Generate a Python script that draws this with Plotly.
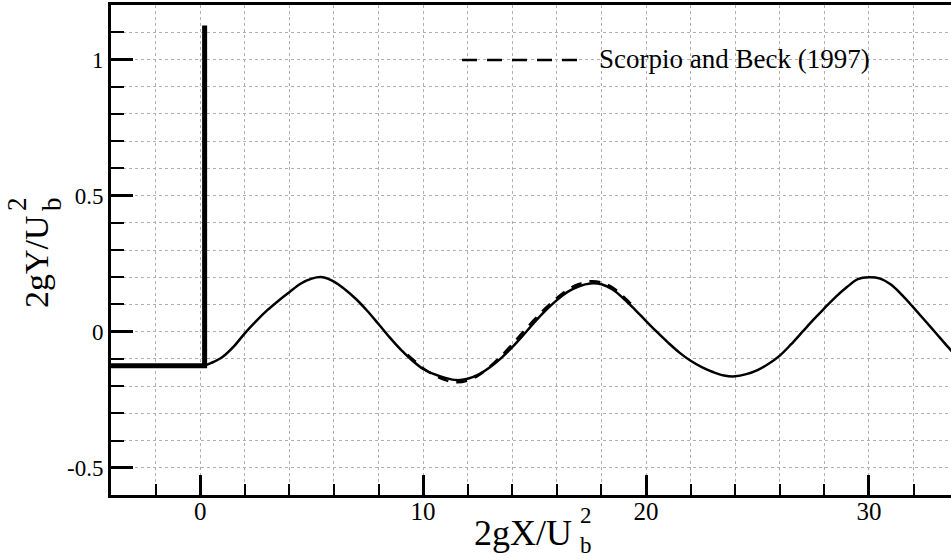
import plotly.graph_objects as go

# ---- data ----
wall_x = [-4, 0.2, 0.2]
wall_y = [-0.125, -0.125, 1.125]

sim_x = [0.2, 0.5, 1, 1.5, 2, 2.5, 3, 3.5, 4, 4.5, 5, 5.5, 6, 6.5, 7, 7.5, 8, 8.5, 9, 9.5,
         10, 10.5, 11, 11.5, 12, 12.5, 13, 13.5, 14, 14.5, 15, 15.5, 16, 16.5, 17, 17.5,
         18, 18.5, 19, 19.5, 20, 20.5, 21, 21.5, 22, 22.5, 23, 23.5, 24, 24.5, 25, 25.5,
         26, 26.5, 27, 27.5, 28, 28.5, 29, 29.5, 30, 30.5, 31, 31.5, 32, 32.5, 33, 33.5, 34]
sim_y = [-0.125, -0.115, -0.093, -0.055, -0.006, 0.038, 0.078, 0.113, 0.145, 0.176, 0.195,
         0.2, 0.184, 0.155, 0.119, 0.076, 0.028, -0.021, -0.066, -0.105, -0.137, -0.156,
         -0.17, -0.178, -0.173, -0.157, -0.131, -0.097, -0.057, -0.012, 0.035, 0.078, 0.116,
         0.147, 0.167, 0.177, 0.174, 0.155, 0.121, 0.081, 0.039, -0.002, -0.041, -0.077,
         -0.107, -0.13, -0.148, -0.161, -0.164, -0.156, -0.141, -0.118, -0.088, -0.047, -0.002,
         0.043, 0.086, 0.127, 0.163, 0.193, 0.2, 0.195, 0.172, 0.133, 0.088, 0.042, -0.005,
         -0.052, -0.097]

exp_x = [9.3, 9.5, 10, 10.5, 11, 11.5, 12, 12.5, 13, 13.5, 14, 14.5, 15, 15.5, 16, 16.5,
         17, 17.5, 18, 18.5, 19, 19.5]
exp_y = [-0.085, -0.099, -0.134, -0.16, -0.178, -0.186, -0.18, -0.16, -0.128, -0.09,
         -0.046, 0.0, 0.045, 0.087, 0.124, 0.155, 0.175, 0.185, 0.181, 0.162, 0.128, 0.088]

legend_label = "Scorpio and Beck (1997)"
x_tickvals = [0, 10, 20, 30]
x_ticktext = ["0", "10", "20", "30"]
y_tickvals = [-0.5, 0, 0.5, 1]
y_ticktext = ["-0.5", "0", "0.5", "1"]

FONT = "Liberation Serif"
W, H = 951, 560
L, R, T, B = 111, 0, 5, 65
PW, PH = W - L - R, H - T - B


def px(xp):
    return (xp - L) / PW


def py(yp):
    return (H - B - yp) / PH


fig = go.Figure()
fig.add_trace(go.Scatter(x=wall_x, y=wall_y, mode="lines",
                         line=dict(color="black", width=5), showlegend=False))
fig.add_trace(go.Scatter(x=sim_x, y=sim_y, mode="lines",
                         line=dict(color="black", width=2.5, shape="spline", smoothing=1),
                         showlegend=False))
fig.add_trace(go.Scatter(x=exp_x, y=exp_y, mode="lines", name=legend_label,
                         line=dict(color="black", width=2.5, dash="11px,8px",
                                   shape="spline", smoothing=1),
                         showlegend=False))

grid = dict(showgrid=True, gridcolor="#b0b0b0", griddash="dot", gridwidth=1)

fig.update_xaxes(range=[-4, 33.68], tickmode="array", tickvals=x_tickvals,
                 ticktext=x_ticktext, ticks="inside", ticklen=20, tickwidth=3,
                 tickcolor="black", showline=True, linewidth=3, linecolor="black",
                 mirror=True, zeroline=False, ticklabelstandoff=-8,
                 tickfont=dict(family=FONT, size=25, color="black"),
                 minor=dict(tickmode="linear", tick0=0, dtick=2, ticks="inside",
                            ticklen=11, tickwidth=2, tickcolor="black", **grid),
                 **grid)
fig.update_yaxes(range=[-0.6, 1.2], tickmode="array", tickvals=y_tickvals,
                 ticktext=y_ticktext, ticks="inside", ticklen=22, tickwidth=3,
                 tickcolor="black", showline=True, linewidth=3, linecolor="black",
                 zeroline=False,
                 tickfont=dict(family=FONT, size=23, color="black"),
                 minor=dict(tickmode="linear", tick0=0, dtick=0.1, ticks="inside",
                            ticklen=13, tickwidth=2, tickcolor="black", **grid),
                 **grid)

# legend box (drawn by hand to match the long dashed key)
fig.add_shape(type="rect", xref="paper", yref="paper", x0=px(427), x1=px(905),
              y0=py(86), y1=py(33), fillcolor="white", line=dict(width=0), layer="between")
fig.add_shape(type="line", xref="paper", yref="paper", x0=px(462), x1=px(580),
              y0=py(60), y1=py(60), line=dict(color="black", width=2.5, dash="15px,10px"))
fig.add_annotation(xref="paper", yref="paper", x=px(597), y=py(59), xanchor="left",
                   yanchor="middle", text=legend_label, showarrow=False,
                   font=dict(family=FONT, size=27, color="black"))

# axis titles
fig.add_annotation(xref="paper", yref="paper", x=px(472), y=py(533), xanchor="left",
                   yanchor="middle", text="2gX/U", showarrow=False,
                   font=dict(family=FONT, size=36, color="black"))
fig.add_annotation(xref="paper", yref="paper", x=px(578), y=py(530), xanchor="left",
                   yanchor="middle", text="2<br>b", showarrow=False, align="left",
                   font=dict(family=FONT, size=23, color="black"))
fig.add_annotation(xref="paper", yref="paper", x=px(36), y=py(262), xanchor="center",
                   yanchor="middle", text="2gY/U", textangle=-90, showarrow=False,
                   font=dict(family=FONT, size=34, color="black"))
fig.add_annotation(xref="paper", yref="paper", x=px(34), y=py(204), xanchor="center",
                   yanchor="middle", text="2<br>b", textangle=-90, showarrow=False,
                   font=dict(family=FONT, size=27, color="black"))

fig.update_layout(width=W, height=H, margin=dict(l=L, r=R, t=T, b=B),
                  paper_bgcolor="white", plot_bgcolor="white", showlegend=False)

fig.write_html("out.html", config={"displayModeBar": False},
               post_script="document.body.style.margin='0';document.body.style.padding='0';")
